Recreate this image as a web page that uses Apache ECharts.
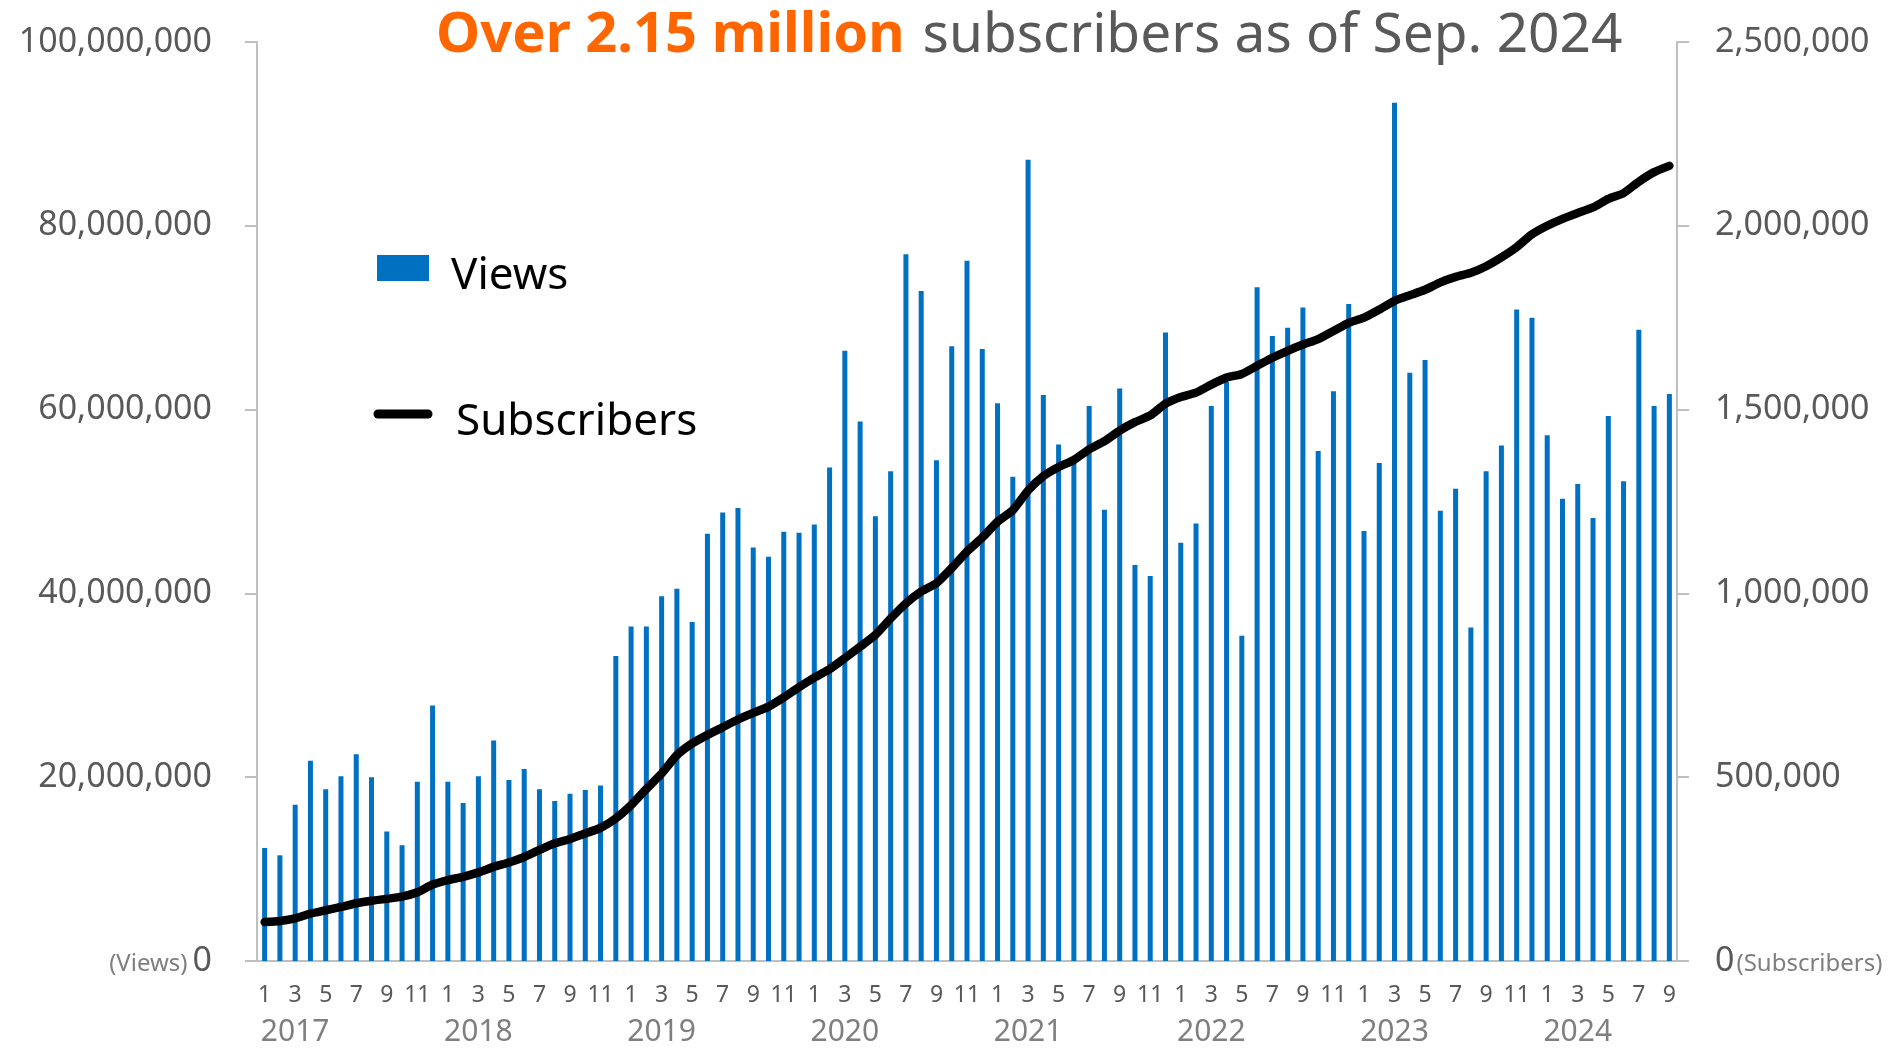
<!DOCTYPE html>
<html>
<head>
<meta charset="utf-8">
<script src="https://cdn.jsdelivr.net/npm/echarts@6/dist/echarts.min.js"></script>
<style>
html,body{margin:0;padding:0;background:#fff;}
#chart{width:1895px;height:1052px;}
</style>
</head>
<body>
<div id="chart"></div>
<script>
// Years covered and months (Jan 2017 – Sep 2024)
const years = [2017, 2018, 2019, 2020, 2021, 2022, 2023, 2024];
const lastYearMonths = 9;

// Monthly views, in millions
const views2017 = [12.3, 11.5, 17.0, 21.8, 18.7, 20.1, 22.5, 20.0, 14.1, 12.6, 19.5, 27.8];
const views2018 = [19.5, 17.2, 20.1, 24.0, 19.7, 20.9, 18.7, 17.4, 18.2, 18.6, 19.1, 33.2];
const views2019 = [36.4, 36.4, 39.7, 40.5, 36.9, 46.5, 48.8, 49.3, 45.0, 44.0, 46.7, 46.6];
const views2020 = [47.5, 53.7, 66.4, 58.7, 48.4, 53.3, 76.9, 72.9, 54.5, 66.9, 76.2, 66.6];
const views2021 = [60.7, 52.7, 87.2, 61.6, 56.2, 54.4, 60.4, 49.1, 62.3, 43.1, 41.9, 68.4];
const views2022 = [45.5, 47.6, 60.4, 63.0, 35.4, 73.3, 68.0, 68.9, 71.1, 55.5, 62.0, 71.5];
const views2023 = [46.8, 54.2, 93.4, 64.0, 65.4, 49.0, 51.4, 36.3, 53.3, 56.1, 70.9, 70.0];
const views2024 = [57.2, 50.3, 51.9, 48.2, 59.3, 52.2, 68.7, 60.4, 61.7];

// Subscribers at month end, in thousands
const subs2017 = [106, 109, 116, 129, 138, 147, 157, 164, 169, 175, 187, 208];
const subs2018 = [220, 229, 241, 256, 268, 283, 302, 320, 332, 347, 362, 388];
const subs2019 = [424, 468, 510, 560, 592, 615, 636, 657, 675, 692, 717, 745];
const subs2020 = [771, 794, 824, 855, 887, 932, 973, 1005, 1028, 1069, 1114, 1152];
const subs2021 = [1195, 1226, 1280, 1319, 1344, 1363, 1392, 1414, 1443, 1466, 1484, 1516];
const subs2022 = [1534, 1546, 1568, 1587, 1597, 1619, 1641, 1660, 1677, 1692, 1714, 1736];
const subs2023 = [1750, 1772, 1796, 1811, 1826, 1846, 1861, 1872, 1890, 1914, 1942, 1977];
const subs2024 = [2000, 2019, 2035, 2050, 2073, 2089, 2120, 2146, 2163];

// Axis ticks
const viewsTicks = [0, 20, 40, 60, 80, 100];          // millions
const subsTicks = [0, 500, 1000, 1500, 2000, 2500];   // thousands

const views = [].concat(views2017, views2018, views2019, views2020, views2021, views2022, views2023, views2024);
const subs = [].concat(subs2017, subs2018, subs2019, subs2020, subs2021, subs2022, subs2023, subs2024);

const categories = [];
years.forEach((y, yi) => {
  const n = (yi === years.length - 1) ? lastYearMonths : 12;
  for (let m = 1; m <= n; m++) categories.push(y + '-' + m);
});

const FONT = '"Noto Sans", "Open Sans", sans-serif';
const GRAY = '#595959';
const AXIS = '#BFBFBF';

function withCommas(n) { return String(n).replace(/\B(?=(\d{3})+(?!\d))/g, ','); }

const chart = echarts.init(document.getElementById('chart'), null, {renderer: 'canvas'});
chart.setOption({
  backgroundColor: '#ffffff',
  animation: false,
  textStyle: {fontFamily: FONT},
  title: {
    left: 436, top: 0, padding: 0,
    text: '{a|Over 2.15 million}{sp| }{b|subscribers as of Sep. 2024}',
    textStyle: {
      fontWeight: 'normal',
      rich: {
        a: {fontFamily: FONT, fontSize: 56, fontWeight: 'bold', color: '#FF6600', lineHeight: 72},
        sp: {fontFamily: FONT, fontSize: 56, fontWeight: 'normal', lineHeight: 72, width: 18},
        b: {fontFamily: FONT, fontSize: 55, fontWeight: 'normal', color: GRAY, lineHeight: 72}
      }
    }
  },
  grid: {left: 257, right: 218, top: 42, bottom: 91, containLabel: false},
  xAxis: [
    {
      type: 'category', data: categories, position: 'bottom',
      axisLine: {show: true, lineStyle: {color: AXIS, width: 2}},
      axisTick: {show: false},
      axisLabel: {
        interval: (idx) => idx % 2 === 0,
        formatter: (v) => v.split('-')[1],
        color: GRAY, fontSize: 23, fontFamily: FONT, margin: 23
      }
    },
    {
      type: 'category', data: categories, position: 'bottom', offset: 0,
      axisLine: {show: false}, axisTick: {show: false},
      axisLabel: {
        interval: (idx) => idx % 12 === 2,
        formatter: (v) => v.split('-')[0],
        color: '#7F7F7F', fontSize: 30, fontFamily: FONT, margin: 56
      }
    }
  ],
  yAxis: [
    {
      type: 'value', min: viewsTicks[0], max: viewsTicks[viewsTicks.length - 1], interval: 20, position: 'left',
      splitLine: {show: false},
      axisLine: {show: true, lineStyle: {color: AXIS, width: 2}},
      axisTick: {show: true, inside: false, length: 12, lineStyle: {color: AXIS, width: 2}},
      axisLabel: {
        margin: 45, color: GRAY, fontSize: 34, fontFamily: FONT,
        formatter: (v) => v === 0 ? '{s|(Views)}{n|0}' : withCommas(v) + ',000,000',
        rich: {
          s: {fontSize: 24, color: '#7F7F7F', fontFamily: FONT, padding: [6, 5, 0, 0]},
          n: {fontSize: 34, color: GRAY, fontFamily: FONT}
        }
      }
    },
    {
      type: 'value', min: subsTicks[0], max: subsTicks[subsTicks.length - 1], interval: 500, position: 'right',
      splitLine: {show: false},
      axisLine: {show: true, lineStyle: {color: AXIS, width: 2}},
      axisTick: {show: true, inside: false, length: 12, lineStyle: {color: AXIS, width: 2}},
      axisLabel: {
        margin: 38, color: GRAY, fontSize: 34, fontFamily: FONT,
        formatter: (v) => v === 0 ? '{n|0}{s|(Subscribers)}' : withCommas(v) + ',000',
        rich: {
          s: {fontSize: 24, color: '#7F7F7F', fontFamily: FONT, padding: [6, 0, 0, 2]},
          n: {fontSize: 34, color: GRAY, fontFamily: FONT}
        }
      }
    }
  ],
  series: [
    {
      name: 'Views', type: 'bar', data: views, xAxisIndex: 0, yAxisIndex: 0,
      barWidth: 5, itemStyle: {color: '#0070C0'}, z: 2
    },
    {
      name: 'Subscribers', type: 'line', data: subs, xAxisIndex: 0, yAxisIndex: 1,
      showSymbol: false, smooth: 0.2, z: 3,
      lineStyle: {color: '#000000', width: 8.5, cap: 'round', join: 'round'}
    }
  ],
  graphic: [
    {type: 'rect', shape: {x: 377, y: 255, width: 52, height: 26}, style: {fill: '#0070C0'}},
    {type: 'text', x: 451, y: 276, style: {text: 'Views', fontSize: 44, fontFamily: FONT, fill: '#000', textVerticalAlign: 'middle'}},
    {type: 'line', shape: {x1: 378, y1: 414, x2: 428, y2: 414}, style: {stroke: '#000', lineWidth: 9, lineCap: 'round'}},
    {type: 'text', x: 456, y: 422, style: {text: 'Subscribers', fontSize: 44, fontFamily: FONT, fill: '#000', textVerticalAlign: 'middle'}}
  ]
});
</script>
</body>
</html>
